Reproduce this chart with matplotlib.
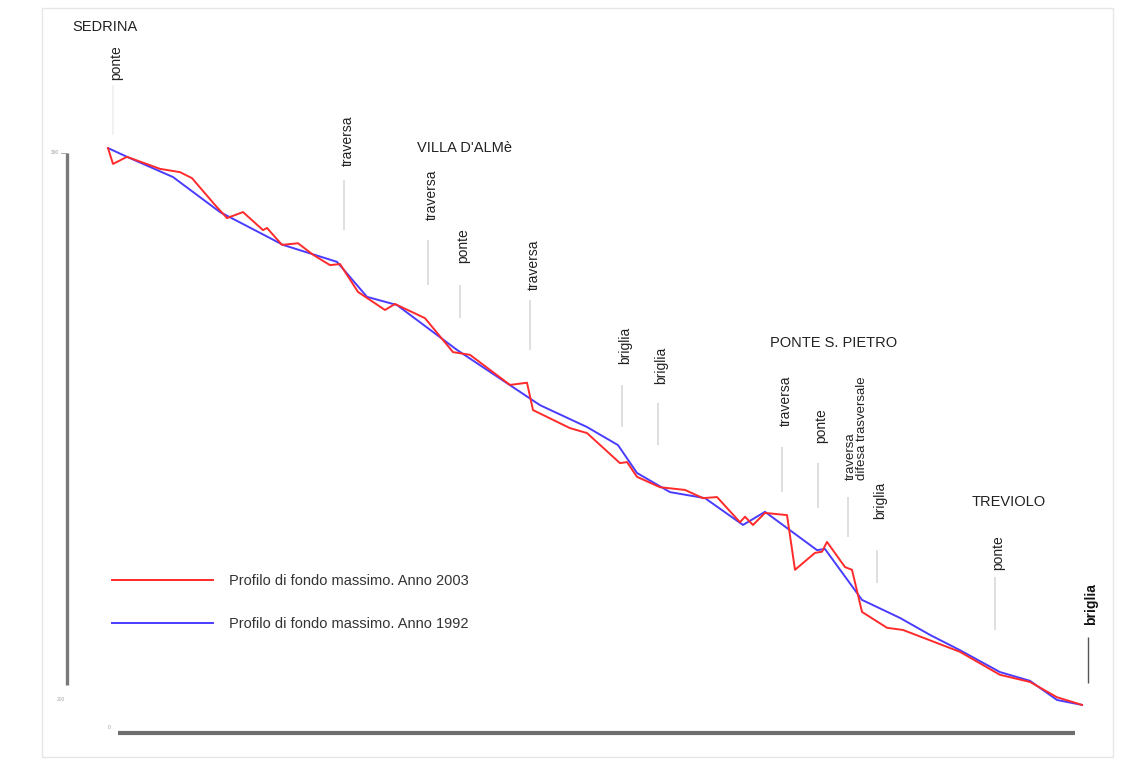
import matplotlib
matplotlib.use("Agg")
import matplotlib.pyplot as plt
from matplotlib.patches import Rectangle

plt.rcParams['font.family'] = ['Liberation Sans', 'DejaVu Sans']

# Longitudinal bed profile of the river: distance from Sedrina (km) vs bed elevation (m a.s.l.)
dist_2003 = [0.00, 0.10, 0.38, 1.04, 1.44, 1.68, 2.14, 2.38, 2.70, 3.10, 3.18, 3.48, 3.80,
             4.10, 4.44, 4.64, 5.00, 5.54, 5.74, 6.34, 6.90, 7.24, 8.04, 8.38, 8.50, 9.24,
             9.58, 10.24, 10.38, 10.58, 11.04, 11.54, 11.90, 12.18, 12.64, 12.74, 12.90,
             13.14, 13.58, 13.74, 14.14, 14.28, 14.38, 14.74, 14.88, 15.08, 15.58, 15.90,
             17.04, 17.84, 18.44, 18.98, 19.48]
elev_2003 = [300.9, 298.0, 299.3, 297.1, 296.5, 295.4, 290.5, 288.1, 289.2, 285.9, 286.3,
             283.2, 283.5, 281.4, 279.5, 279.7, 274.6, 271.3, 272.4, 269.8, 263.6, 263.1,
             257.6, 258.0, 253.0, 249.7, 248.8, 243.3, 243.5, 240.8, 238.9, 238.4, 236.9,
             237.1, 232.5, 233.5, 232.0, 234.2, 233.8, 223.8, 226.9, 227.1, 228.9, 224.3,
             223.8, 216.1, 213.2, 212.8, 208.8, 204.6, 203.3, 200.5, 199.1]

dist_1992 = [0.00, 0.38, 1.30, 2.24, 3.04, 3.50, 4.58, 5.18, 5.78, 6.98, 8.64, 9.58, 10.20,
             10.58, 11.24, 11.94, 12.70, 13.14, 14.18, 14.34, 15.08, 15.84, 16.44, 17.04,
             17.84, 18.44, 18.98, 19.48]
elev_1992 = [300.9, 299.3, 295.6, 289.2, 285.4, 283.2, 280.1, 273.7, 272.2, 264.0, 253.9,
             249.9, 246.6, 241.5, 238.0, 236.9, 232.0, 234.4, 227.4, 227.6, 218.3, 215.0,
             211.9, 209.1, 205.1, 203.5, 200.0, 199.1]

label_2003 = "Profilo di fondo massimo. Anno 2003"
label_1992 = "Profilo di fondo massimo. Anno 1992"

# Towns along the reach
towns = ["SEDRINA", "VILLA D'ALMè", "PONTE S. PIETRO", "TREVIOLO"]
town_dist = [-0.72, 6.18, 13.24, 17.28]
town_elev = [323.0, 300.9, 265.3, 236.2]

# Structures crossing the river bed
works = ["ponte", "traversa", "traversa", "ponte", "traversa", "briglia", "briglia",
         "traversa", "ponte", "traversa\ndifesa trasversale", "briglia", "ponte", "briglia"]
work_dist = [0.10, 4.72, 6.40, 7.04, 8.44, 10.28, 11.00, 13.48, 14.20, 14.80, 15.38, 17.74, 19.60]
work_label_top = [319.7, 306.9, 296.9, 286.3, 284.1, 268.2, 264.5, 259.4, 253.4, 262.0,
                  239.9, 230.2, 221.4]
work_mark_top = [312.4, 295.1, 284.1, 275.9, 273.1, 257.6, 254.3, 246.3, 243.3, 237.1,
                 227.4, 222.5, 211.5]
work_mark_bot = [303.3, 285.9, 275.9, 269.8, 264.0, 249.9, 246.6, 238.0, 235.1, 229.8,
                 221.4, 212.8, 203.1]

fig = plt.figure(figsize=(11.21, 7.63), dpi=100)
ax = fig.add_axes([0, 0, 1, 1])
ax.set_xlim(-2.16, 20.26)
ax.set_ylim(188.48, 327.97)
ax.axis("off")

# page frame
fig.patches.append(Rectangle((42 / 1121, 1 - 757 / 763), (1113 - 42) / 1121, (757 - 8) / 763,
                             transform=fig.transFigure, fill=False,
                             edgecolor="#e6e6e6", linewidth=1.0))

# axis lines
ax.plot([-0.82, -0.82], [300.0, 202.7], color="#7a7a7a", lw=2.4, solid_capstyle="butt")
ax.plot([-0.95, -0.82], [300.0, 300.0], color="#9a9a9a", lw=0.6)
ax.text(-0.98, 300.0, "300", fontsize=3.5, color="#999999", ha="right", va="center")
ax.text(-0.85, 200.0, "200", fontsize=3.5, color="#aaaaaa", ha="right", va="center")
ax.plot([0.20, 19.34], [193.97, 193.97], color="#6e6e6e", lw=3.0, solid_capstyle="butt")
ax.text(0.05, 194.9, "0", fontsize=3.5, color="#999999", ha="right", va="center")

# structure markers and labels
for name, d, top, m0, m1 in zip(works, work_dist, work_label_top, work_mark_top, work_mark_bot):
    last = name == "briglia" and d > 19
    first = d < 1
    ax.plot([d, d], [m0, m1], color="#555555" if last else ("#f0f0f0" if first else "#dcdcdc"),
            lw=1.0 if last else 1.3, solid_capstyle="butt")
    if "\n" in name:
        ax.text(d + 0.16, 240.2, name, rotation=90, ha="center", va="bottom",
                multialignment="left", fontsize=9.5, color="#222222", linespacing=0.9)
    else:
        ax.text(d + 0.07, top, name, rotation=90, ha="center", va="top",
                fontsize=10, color="#111111" if last else "#222222",
                fontweight="bold" if last else "normal")

for name, d, h in zip(towns, town_dist, town_elev):
    ax.text(d, h, name, ha="left", va="center", fontsize=10.5, color="#222222")

# bed profiles
l92, = ax.plot(dist_1992, elev_1992, color="#4a3cff", lw=1.4, label=label_1992, zorder=3)
l03, = ax.plot(dist_2003, elev_2003, color="#ff2a2a", lw=1.4, label=label_2003, zorder=4)

leg = ax.legend(handles=[l03, l92], loc="upper left",
                bbox_to_anchor=(112 / 1121, 1 - 574 / 763), frameon=False,
                fontsize=10.5, handlelength=6.9, handletextpad=1.15, labelspacing=2.02,
                borderpad=0, borderaxespad=0)
for t in leg.get_texts():
    t.set_color("#333333")

fig.savefig("out.png", dpi=100)
